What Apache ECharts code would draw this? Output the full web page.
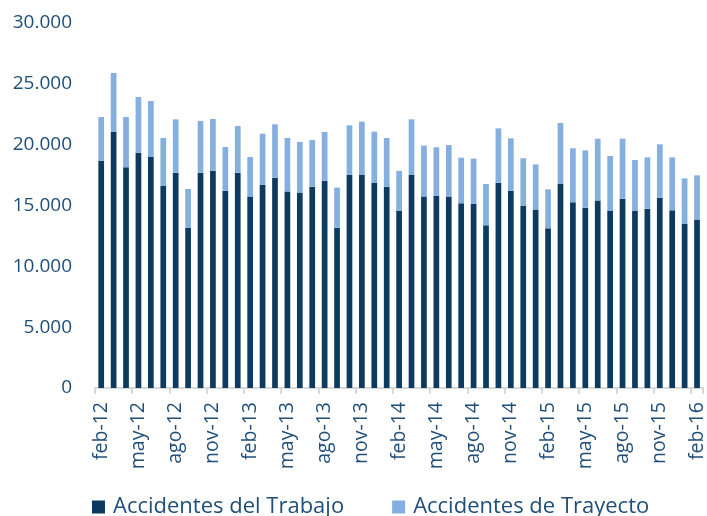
<!DOCTYPE html>
<html>
<head>
<meta charset="utf-8">
<script src="https://cdn.jsdelivr.net/npm/echarts@6/dist/echarts.min.js"></script>
<style>
html,body{margin:0;padding:0;background:#fff;}
#chart{width:707px;height:516px;}
</style>
</head>
<body>
<div id="chart"></div>
<script>
const categories = [
  "feb-12","mar-12","abr-12","may-12","jun-12","jul-12","ago-12","sep-12","oct-12","nov-12","dic-12","ene-13",
  "feb-13","mar-13","abr-13","may-13","jun-13","jul-13","ago-13","sep-13","oct-13","nov-13","dic-13","ene-14",
  "feb-14","mar-14","abr-14","may-14","jun-14","jul-14","ago-14","sep-14","oct-14","nov-14","dic-14","ene-15",
  "feb-15","mar-15","abr-15","may-15","jun-15","jul-15","ago-15","sep-15","oct-15","nov-15","dic-15","ene-16",
  "feb-16"
];
const totals = [
  22270,25890,22270,23920,23590,20550,22080,16360,21950,22110,19810,21530,
  18990,20900,21670,20550,20220,20380,21040,16470,21590,21890,21070,20550,
  17840,22080,19920,19780,19970,18930,18850,16770,21340,20520,18880,18380,
  16330,21780,19700,19530,20490,19070,20490,18740,18960,20030,18960,17230,
  17480
];
const trabajo = [
  18680,21040,18140,19340,18990,16600,17700,13150,17700,17860,16220,17700,
  15730,16690,17290,16160,16060,16550,17040,13180,17510,17510,16850,16550,
  14550,17510,15750,15780,15750,15180,15120,13370,16880,16220,14960,14630,
  13120,16770,15260,14820,15420,14580,15560,14550,14740,15640,14600,13480,
  13840
];
const trayecto = totals.map((t, i) => t - trabajo[i]);
const seriesNames = ["Accidentes del Trabajo", "Accidentes de Trayecto"];
const yTicks = [0, 5000, 10000, 15000, 20000, 25000, 30000];

const textColor = "#1F4E79";
const font = "Open Sans";

const chart = echarts.init(document.getElementById("chart"), null, {renderer: "canvas"});
chart.setOption({
  animation: false,
  backgroundColor: "#ffffff",
  grid: {left: 95, right: 1, top: 23, bottom: 128, containLabel: false},
  legend: {
    data: seriesNames,
    left: 92,
    top: 496,
    padding: 0,
    icon: "rect",
    itemWidth: 13,
    itemHeight: 13,
    itemGap: 48,
    textStyle: {color: textColor, fontFamily: font, fontSize: 22, padding: [0,0,0,3]}
  },
  xAxis: {
    type: "category",
    data: categories,
    boundaryGap: true,
    axisLine: {show: true, lineStyle: {color: "#D9D9D9", width: 2}},
    axisTick: {show: true, interval: 2, length: 6, lineStyle: {color: "#D9D9D9", width: 2}},
    axisLabel: {
      interval: 2, rotate: 90, margin: 14,
      color: textColor, fontFamily: font, fontSize: 19.5
    }
  },
  yAxis: {
    type: "value",
    min: yTicks[0],
    max: yTicks[yTicks.length - 1],
    interval: 5000,
    axisLine: {show: false},
    axisTick: {show: false},
    splitLine: {show: false},
    axisLabel: {
      margin: 23,
      color: textColor, fontFamily: font, fontSize: 19,
      formatter: v => v === 0 ? "0" : v.toString().replace(/\B(?=(\d{3})+(?!\d))/g, ".")
    }
  },
  series: [
    {
      name: seriesNames[0], type: "bar", stack: "a", data: trabajo,
      barWidth: "46%", itemStyle: {color: "#0D3A5F"}
    },
    {
      name: seriesNames[1], type: "bar", stack: "a", data: trayecto,
      barWidth: "46%", itemStyle: {color: "#85AFDF"}
    }
  ]
});
</script>
</body>
</html>
